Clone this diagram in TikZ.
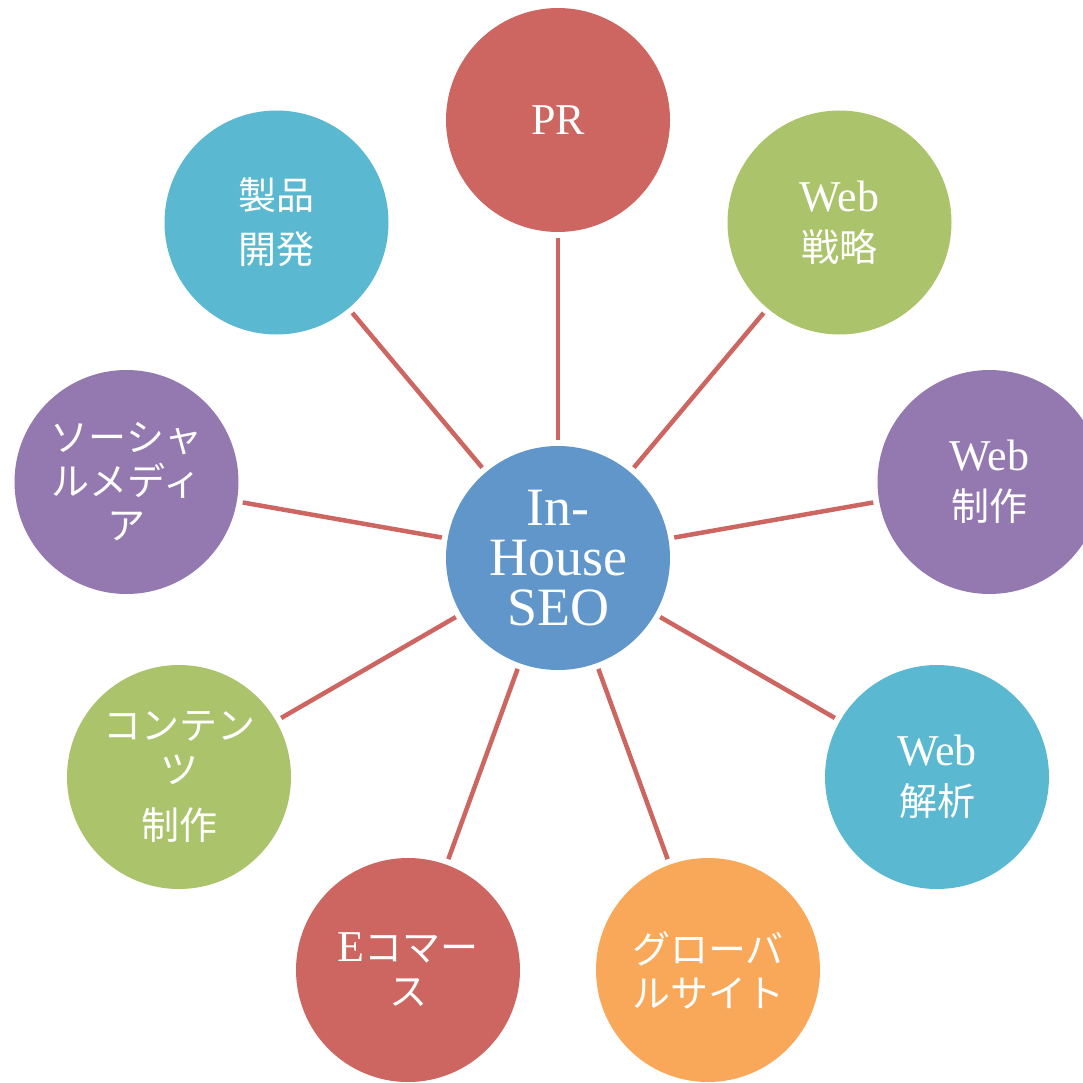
\documentclass[tikz,border=0pt]{standalone}
\usepackage{fontspec}
\setmainfont{Liberation Serif}
\newfontfamily\jp{Noto Sans CJK JP}
\newcommand{\lat}{\fontsize{44}{46}\selectfont}
\definecolor{cred}{HTML}{CD6660}
\definecolor{cgreen}{HTML}{ABC46C}
\definecolor{cpurple}{HTML}{9479B0}
\definecolor{ccyan}{HTML}{5BB8D1}
\definecolor{corange}{HTML}{F8A858}
\definecolor{cblue}{HTML}{6096C9}
\definecolor{cline}{HTML}{CD6560}
\begin{document}
\begin{tikzpicture}[x=1pt,y=-1pt,
  bub/.style={circle,minimum size=224pt,inner sep=0pt,outer sep=0pt,text=white,align=center,
    font=\fontsize{38}{44}\selectfont},
  hub/.style={bub,fill=cblue,font=\fontsize{54}{50}\selectfont},
  conn/.style={draw=cline,line width=4.5pt,shorten <=6pt,shorten >=6pt}]
\useasboundingbox (0,0) rectangle (1083,1083);
\clip (0,0) rectangle (1083,1083);
\node[hub] (c) at (558,558) {In-\\House\\SEO};
\node[bub,fill=cred] (pr) at (558,120) {\lat PR};
\node[bub,fill=cgreen] (ws) at (839.5,222.5) {\lat Web\\[6pt]{\jp 戦略}};
\node[bub,fill=cpurple] (wp) at (989.5,482) {\lat Web\\[6pt]{\jp 制作}};
\node[bub,fill=ccyan] (wa) at (937,777) {\lat Web\\[6pt]{\jp 解析}};
\node[bub,fill=corange] (gs) at (708,970) {\jp グローバ\\\jp ルサイト};
\node[bub,fill=cred] (ec) at (408,970) {{\lat E}{\jp コマー}\\\jp ス};
\node[bub,fill=cgreen] (cp) at (179,777) {\jp コンテン\\\jp ツ\\[12pt]\jp 制作};
\node[bub,fill=cpurple] (sm) at (126.5,482) {\jp ソーシャ\\\jp ルメディ\\\jp ア};
\node[bub,fill=ccyan] (pd) at (276.5,222.5) {\jp 製品\\[10pt]\jp 開発};
\foreach \n in {pr,ws,wp,wa,gs,ec,cp,sm,pd} \draw[conn] (c) -- (\n);
\end{tikzpicture}
\end{document}
